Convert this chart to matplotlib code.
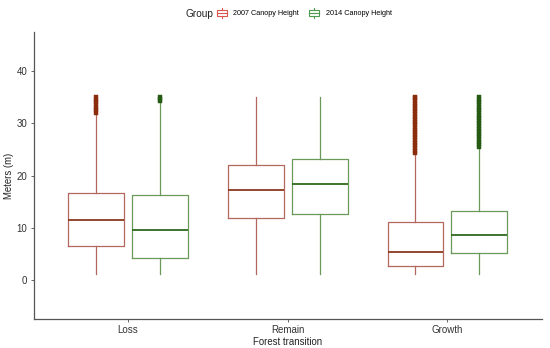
import matplotlib
matplotlib.use('Agg')
import matplotlib.pyplot as plt
from matplotlib.patches import Rectangle
from matplotlib.legend_handler import HandlerBase
from matplotlib.lines import Line2D

plt.rcParams['font.family'] = ['Liberation Sans', 'DejaVu Sans']

# categories and groups
categories = ["Loss", "Remain", "Growth"]
groups = ["2007 Canopy Height", "2014 Canopy Height"]

# box stats (meters), one list per group, ordered as categories
q1_2007 = [6.6, 11.9, 2.6]
med_2007 = [11.4, 17.3, 5.4]
q3_2007 = [16.7, 22.0, 11.2]
lo_2007 = [1.1, 1.1, 1.1]
hi_2007 = [31.7, 35.0, 24.0]
out_2007 = [
    [32.0, 32.5, 33.0, 33.5, 34.0, 34.5, 35.0],
    [],
    [24.3, 24.8, 25.3, 25.8, 26.3, 26.8, 27.3, 27.8, 28.3, 28.8, 29.3, 29.8,
     30.3, 30.8, 31.3, 31.8, 32.3, 32.8, 33.3, 33.8, 34.3, 34.8, 35.0],
]

q1_2014 = [4.2, 12.6, 5.1]
med_2014 = [9.6, 18.3, 8.7]
q3_2014 = [16.3, 23.1, 13.3]
lo_2014 = [1.1, 1.1, 1.1]
hi_2014 = [34.1, 35.0, 25.3]
out_2014 = [
    [34.3, 34.7, 35.1],
    [],
    [25.5, 26.0, 26.5, 27.0, 27.5, 28.0, 28.5, 29.0, 29.5, 30.0, 30.5, 31.0,
     31.5, 32.0, 32.5, 33.0, 33.5, 34.0, 34.5, 35.0],
]

EDGE = ["#b4675c", "#6a9a5a"]
MED = ["#8b3a1e", "#2f6a1f"]
OUT = ["#8b2c0c", "#245a12"]
LEG = ["#d9534f", "#4e9a4e"]


def make_stats(q1, med, q3, lo, hi, out):
    stats = []
    for i in range(len(categories)):
        stats.append(dict(q1=q1[i], med=med[i], q3=q3[i],
                          whislo=lo[i], whishi=hi[i], fliers=out[i]))
    return stats


fig = plt.figure(figsize=(5.5, 3.48), dpi=100)
ax = fig.add_axes([0.061, 0.083, 0.924, 0.825])

data = [
    make_stats(q1_2007, med_2007, q3_2007, lo_2007, hi_2007, out_2007),
    make_stats(q1_2014, med_2014, q3_2014, lo_2014, hi_2014, out_2014),
]
offsets = [-0.2, 0.2]
for g, st in enumerate(data):
    pos = [i + 1 + offsets[g] for i in range(len(categories))]
    ax.bxp(st, positions=pos, widths=0.35, showcaps=False,
           boxprops=dict(color=EDGE[g], linewidth=0.9),
           whiskerprops=dict(color=EDGE[g], linewidth=0.9),
           medianprops=dict(color=MED[g], linewidth=1.3),
           flierprops=dict(marker='s', markersize=2.4, markerfacecolor=OUT[g],
                           markeredgecolor=OUT[g], markeredgewidth=0.3,
                           linestyle='none'))

ax.set_xlim(0.41, 3.59)
ax.set_ylim(-7.5, 47.5)
ax.set_xticks([1, 2, 3])
ax.set_xticklabels(categories)
ax.set_yticks([0, 10, 20, 30, 40])
ax.tick_params(labelsize=7, colors="#4d4d4d", length=2.5, width=0.6, pad=2)
for lab in ax.get_xticklabels() + ax.get_yticklabels():
    lab.set_color("#333333")
for s in ["top", "right"]:
    ax.spines[s].set_visible(False)
for s in ["left", "bottom"]:
    ax.spines[s].set_color("#555555")
    ax.spines[s].set_linewidth(0.9)
ax.set_xlabel("Forest transition", fontsize=6.9, color="#222222", labelpad=1)
ax.set_ylabel("Meters (m)", fontsize=6.9, color="#222222", labelpad=2)


class BoxKey(HandlerBase):
    def create_artists(self, legend, orig_handle, xdescent, ydescent,
                       width, height, fontsize, trans):
        c = orig_handle.get_color()
        x0 = -xdescent
        y0 = -ydescent
        xc = x0 + width / 2
        r = Rectangle((x0, y0), width, height,
                      facecolor='white', edgecolor=c, lw=0.8, transform=trans)
        m = Line2D([x0, x0 + width], [y0 + height * 0.5] * 2, color=c, lw=0.8,
                   transform=trans)
        v1 = Line2D([xc, xc], [y0 - height * 0.3, y0], color=c, lw=0.8,
                    transform=trans)
        v2 = Line2D([xc, xc], [y0 + height, y0 + height * 1.3], color=c,
                    lw=0.8, transform=trans)
        return [r, m, v1, v2]


handles = [Line2D([], [], color=LEG[g]) for g in range(len(groups))]
fig.text(0.338, 0.961, "Group", fontsize=7.3, color="#222222", va="center")
leg = fig.legend(handles, groups, handler_map={Line2D: BoxKey()},
                 loc="center left", bbox_to_anchor=(0.394, 0.961), ncol=2,
                 frameon=False, fontsize=5.2, handlelength=1.4,
                 handleheight=1.0, handletextpad=0.9, columnspacing=1.4,
                 borderpad=0, borderaxespad=0)

fig.savefig("out.png", dpi=100)
